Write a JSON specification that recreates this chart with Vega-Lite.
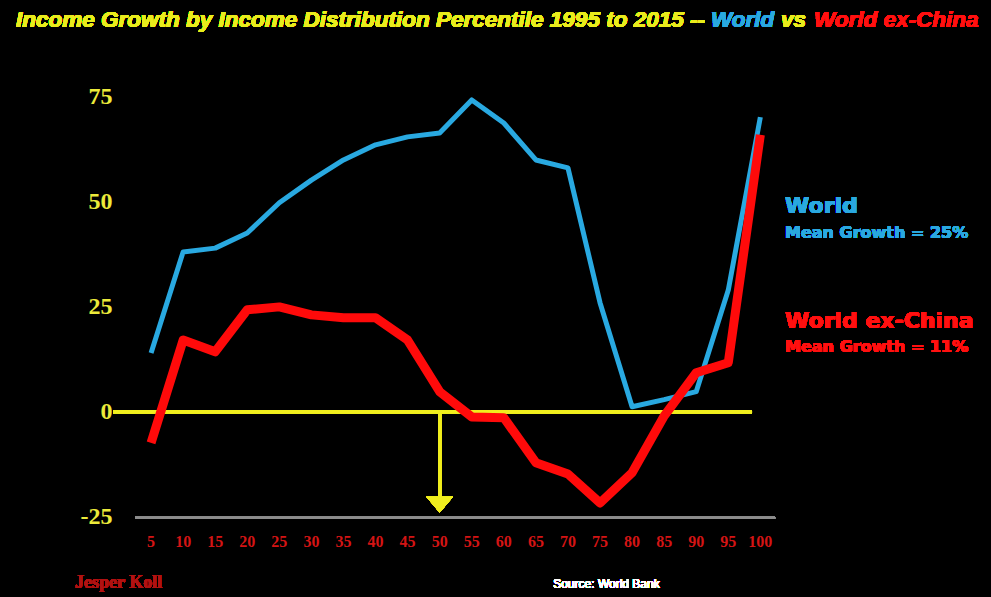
{
  "$schema": "https://vega.github.io/schema/vega-lite/v6.json",
  "width": 667,
  "height": 466,
  "autosize": {"type": "none"},
  "padding": {"left": 119, "top": 55, "right": 205, "bottom": 76},
  "background": "#000000",
  "config": {
    "view": {"stroke": null},
    "axisY": {"domain": false, "ticks": false, "grid": false, "labelColor": "#ecea3a", "labelFont": "Liberation Serif", "labelFontWeight": "bold", "labelFontSize": 24, "labelPadding": 7, "title": null}
  },
  "datasets": {
    "growth": [
      {"p": 5, "series": "World", "v": 14.0},
      {"p": 10, "series": "World", "v": 38.1},
      {"p": 15, "series": "World", "v": 39.0},
      {"p": 20, "series": "World", "v": 42.6},
      {"p": 25, "series": "World", "v": 49.8},
      {"p": 30, "series": "World", "v": 55.2},
      {"p": 35, "series": "World", "v": 60.0},
      {"p": 40, "series": "World", "v": 63.6},
      {"p": 45, "series": "World", "v": 65.5},
      {"p": 50, "series": "World", "v": 66.4},
      {"p": 55, "series": "World", "v": 74.3},
      {"p": 60, "series": "World", "v": 68.8},
      {"p": 65, "series": "World", "v": 60.0},
      {"p": 70, "series": "World", "v": 58.1},
      {"p": 75, "series": "World", "v": 26.0},
      {"p": 80, "series": "World", "v": 1.2},
      {"p": 85, "series": "World", "v": 2.9},
      {"p": 90, "series": "World", "v": 4.8},
      {"p": 95, "series": "World", "v": 29.0},
      {"p": 100, "series": "World", "v": 70.2},
      {"p": 5, "series": "World ex-China", "v": -7.4},
      {"p": 10, "series": "World ex-China", "v": 17.1},
      {"p": 15, "series": "World ex-China", "v": 14.3},
      {"p": 20, "series": "World ex-China", "v": 24.3},
      {"p": 25, "series": "World ex-China", "v": 25.0},
      {"p": 30, "series": "World ex-China", "v": 23.1},
      {"p": 35, "series": "World ex-China", "v": 22.4},
      {"p": 40, "series": "World ex-China", "v": 22.4},
      {"p": 45, "series": "World ex-China", "v": 17.1},
      {"p": 50, "series": "World ex-China", "v": 4.8},
      {"p": 55, "series": "World ex-China", "v": -1.2},
      {"p": 60, "series": "World ex-China", "v": -1.4},
      {"p": 65, "series": "World ex-China", "v": -12.1},
      {"p": 70, "series": "World ex-China", "v": -14.8},
      {"p": 75, "series": "World ex-China", "v": -21.7},
      {"p": 80, "series": "World ex-China", "v": -14.5},
      {"p": 85, "series": "World ex-China", "v": -1.0},
      {"p": 90, "series": "World ex-China", "v": 9.3},
      {"p": 95, "series": "World ex-China", "v": 11.7},
      {"p": 100, "series": "World ex-China", "v": 66.0}
    ],
    "xticks": [
      {"p": 5}, {"p": 10}, {"p": 15}, {"p": 20}, {"p": 25}, {"p": 30}, {"p": 35}, {"p": 40}, {"p": 45}, {"p": 50},
      {"p": 55}, {"p": 60}, {"p": 65}, {"p": 70}, {"p": 75}, {"p": 80}, {"p": 85}, {"p": 90}, {"p": 95}, {"p": 100}
    ]
  },
  "data": {"name": "growth"},
  "layer": [
    {
      "mark": {"type": "rule", "color": "#8c8c8c", "strokeWidth": 2},
      "encoding": {
        "x": {"datum": 2.5, "type": "quantitative", "scale": {"domain": [0, 104], "nice": false, "zero": false}, "axis": null},
        "x2": {"datum": 102.3},
        "y": {"datum": -25.2, "type": "quantitative", "scale": {"domain": [-26, 85], "nice": false, "zero": false}, "axis": {"values": [-25, 0, 25, 50, 75], "labelExpr": "'' + datum.value", "labelOverlap": false}}
      }
    },
    {
      "mark": {"type": "rule", "color": "#f0ee1e", "strokeWidth": 3},
      "encoding": {
        "x": {"datum": -0.9, "type": "quantitative", "axis": null},
        "x2": {"datum": 98.7},
        "y": {"datum": 0, "type": "quantitative"}
      }
    },
    {
      "transform": [{"filter": "datum.series === 'World'"}],
      "mark": {"type": "line", "color": "#29a9e1", "strokeWidth": 5, "strokeJoin": "round"},
      "encoding": {
        "x": {"field": "p", "type": "quantitative", "axis": null},
        "y": {"field": "v", "type": "quantitative"}
      }
    },
    {
      "transform": [{"filter": "datum.series === 'World ex-China'"}],
      "mark": {"type": "line", "color": "#ff0a0a", "strokeWidth": 9, "strokeJoin": "round"},
      "encoding": {
        "x": {"field": "p", "type": "quantitative", "axis": null},
        "y": {"field": "v", "type": "quantitative"}
      }
    },
    {
      "data": {"name": "xticks"},
      "mark": {"type": "text", "font": "Liberation Serif", "fontWeight": "bold", "fontSize": 16, "color": "#d41414", "baseline": "middle", "align": "center"},
      "encoding": {
        "x": {"field": "p", "type": "quantitative", "axis": null},
        "y": {"datum": -31.0, "type": "quantitative"},
        "text": {"field": "p", "type": "quantitative", "format": "d"}
      }
    },
    {
      "mark": {"type": "rule", "color": "#f0ee1e", "strokeWidth": 3},
      "encoding": {
        "x": {"datum": 50, "type": "quantitative", "axis": null},
        "y": {"datum": 0, "type": "quantitative"},
        "y2": {"datum": -20.3}
      }
    },
    {
      "mark": {"type": "point", "shape": "M-1,-0.6L1,-0.6L0,0.6Z", "size": 700, "filled": true, "color": "#f0ee1e", "opacity": 1, "strokeWidth": 0},
      "encoding": {
        "x": {"datum": 50, "type": "quantitative", "axis": null},
        "y": {"datum": -22.1, "type": "quantitative"}
      }
    },
    {
      "mark": {"type": "text", "text": "Income Growth by Income Distribution Percentile 1995 to 2015 --", "align": "left", "baseline": "alphabetic", "font": "Liberation Sans", "fontSize": 22.5, "fontWeight": "bold", "fontStyle": "italic", "color": "#e9ec1c"},
      "encoding": {"x": {"datum": -16.06, "type": "quantitative", "axis": null}, "y": {"datum": 91.7, "type": "quantitative"}}
    },
    {
      "mark": {"type": "text", "text": "World", "align": "left", "baseline": "alphabetic", "font": "Liberation Sans", "fontSize": 22.5, "fontWeight": "bold", "fontStyle": "italic", "color": "#2aa8e0"},
      "encoding": {"x": {"datum": 92.31, "type": "quantitative", "axis": null}, "y": {"datum": 91.7, "type": "quantitative"}}
    },
    {
      "mark": {"type": "text", "text": "vs", "align": "left", "baseline": "alphabetic", "font": "Liberation Sans", "fontSize": 22.5, "fontWeight": "bold", "fontStyle": "italic", "color": "#e9ec1c"},
      "encoding": {"x": {"datum": 103.23, "type": "quantitative", "axis": null}, "y": {"datum": 91.7, "type": "quantitative"}}
    },
    {
      "mark": {"type": "text", "text": "World ex-China", "align": "left", "baseline": "alphabetic", "font": "Liberation Sans", "fontSize": 22.5, "fontWeight": "bold", "fontStyle": "italic", "color": "#ff1010"},
      "encoding": {"x": {"datum": 108.37, "type": "quantitative", "axis": null}, "y": {"datum": 91.7, "type": "quantitative"}}
    },
    {
      "mark": {"type": "text", "text": "World", "align": "left", "baseline": "alphabetic", "font": "DejaVu Sans", "fontSize": 22, "fontWeight": "bold", "color": "#2aa8e0"},
      "encoding": {"x": {"datum": 103.85, "type": "quantitative", "axis": null}, "y": {"datum": 47.4, "type": "quantitative"}}
    },
    {
      "mark": {"type": "text", "text": "Mean Growth = 25%", "align": "left", "baseline": "alphabetic", "font": "DejaVu Sans", "fontSize": 16, "fontWeight": "bold", "color": "#2aa8e0"},
      "encoding": {"x": {"datum": 103.85, "type": "quantitative", "axis": null}, "y": {"datum": 41.4, "type": "quantitative"}}
    },
    {
      "mark": {"type": "text", "text": "World ex-China", "align": "left", "baseline": "alphabetic", "font": "DejaVu Sans", "fontSize": 22, "fontWeight": "bold", "color": "#ff1010"},
      "encoding": {"x": {"datum": 103.85, "type": "quantitative", "axis": null}, "y": {"datum": 20.0, "type": "quantitative"}}
    },
    {
      "mark": {"type": "text", "text": "Mean Growth = 11%", "align": "left", "baseline": "alphabetic", "font": "DejaVu Sans", "fontSize": 16, "fontWeight": "bold", "color": "#ff1010"},
      "encoding": {"x": {"datum": 103.85, "type": "quantitative", "axis": null}, "y": {"datum": 14.3, "type": "quantitative"}}
    },
    {
      "mark": {"type": "text", "text": "Jesper Koll", "align": "left", "baseline": "alphabetic", "font": "Liberation Serif", "fontSize": 18, "fontWeight": "bold", "color": "#b01212"},
      "encoding": {"x": {"datum": -6.86, "type": "quantitative", "axis": null}, "y": {"datum": -41.9, "type": "quantitative"}}
    },
    {
      "mark": {"type": "text", "text": "Source: World Bank", "align": "left", "baseline": "alphabetic", "font": "Liberation Sans", "fontSize": 12, "color": "#ffffff"},
      "encoding": {"x": {"datum": 67.7, "type": "quantitative", "axis": null}, "y": {"datum": -41.9, "type": "quantitative"}}
    }
  ]
}
